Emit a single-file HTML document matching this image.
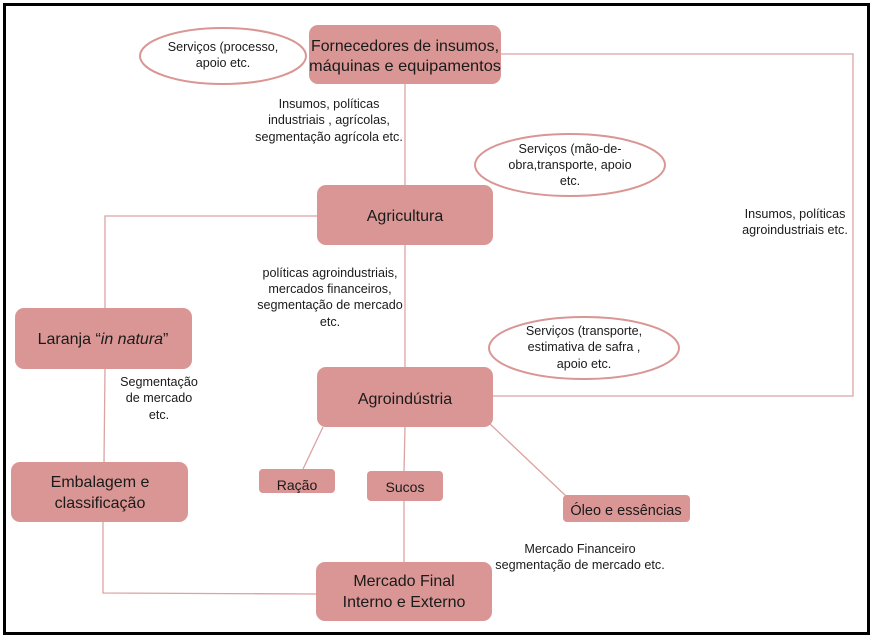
<!DOCTYPE html>
<html><head><meta charset="utf-8"><style>
html,body{margin:0;padding:0;background:#fff}
svg{display:block}
text{font-family:"Liberation Sans",sans-serif;fill:#1a1a1a}
.b{font-size:16px}
.s{font-size:12.6px}
</style></head><body>
<svg width="873" height="638" viewBox="0 0 873 638" xmlns="http://www.w3.org/2000/svg">
<rect x="4.5" y="4.5" width="864" height="629" fill="#fff" stroke="#000" stroke-width="3"/>
<g stroke="#dba3a2" stroke-width="1.3" fill="none">
<line x1="405" y1="84" x2="405" y2="185"/>
<line x1="405" y1="245" x2="405" y2="367"/>
<line x1="405" y1="427" x2="404" y2="471"/>
<line x1="404" y1="501" x2="404" y2="562"/>
<polyline points="501,54 853,54 853,396 493,396"/>
<polyline points="317,216 105,216 105,308"/>
<line x1="105" y1="369" x2="104" y2="462"/>
<polyline points="103,522 103,593 316,594"/>
<line x1="323" y1="427" x2="303" y2="469"/>
<line x1="490" y1="424" x2="566" y2="496"/>
</g>
<g fill="#d99694">
<rect x="309" y="25" width="192" height="59" rx="9"/>
<rect x="317" y="185" width="176" height="60" rx="9"/>
<rect x="15" y="308" width="177" height="61" rx="9"/>
<rect x="317" y="367" width="176" height="60" rx="9"/>
<rect x="11" y="462" width="177" height="60" rx="9"/>
<rect x="259" y="469" width="76" height="24" rx="4"/>
<rect x="367" y="471" width="76" height="30" rx="4"/>
<rect x="563" y="495" width="127" height="27" rx="4"/>
<rect x="316" y="562" width="176" height="59" rx="9"/>
</g>
<g fill="#fff" stroke="#d99694" stroke-width="2">
<ellipse cx="223" cy="56" rx="83" ry="28"/>
<ellipse cx="570" cy="165" rx="95" ry="31"/>
<ellipse cx="584" cy="348" rx="95" ry="31"/>
</g>
<g text-anchor="middle">
<text class="b" x="405" y="51" textLength="188" lengthAdjust="spacingAndGlyphs">Fornecedores de insumos,</text>
<text class="b" x="405" y="71" textLength="192" lengthAdjust="spacingAndGlyphs">máquinas e equipamentos</text>
<text class="b" x="405" y="221">Agricultura</text>
<text class="b" x="103" y="344">Laranja “<tspan font-style="italic">in natura</tspan>”</text>
<text class="b" x="405" y="404">Agroindústria</text>
<text class="b" x="100" y="487">Embalagem e</text>
<text class="b" x="100" y="508">classificação</text>
<text x="297" y="490" font-size="14">Ração</text>
<text x="405" y="492" font-size="14">Sucos</text>
<text x="626" y="515" font-size="14.5">Óleo e essências</text>
<text class="b" x="404" y="586">Mercado Final</text>
<text class="b" x="404" y="607">Interno e Externo</text>
<text class="s" x="223" y="51">Serviços (processo,</text>
<text class="s" x="223" y="67">apoio etc.</text>
<text class="s" x="570" y="153">Serviços (mão-de-</text>
<text class="s" x="570" y="169">obra,transporte, apoio</text>
<text class="s" x="570" y="185">etc.</text>
<text class="s" x="584" y="335">Serviços (transporte,</text>
<text class="s" x="584" y="351">estimativa de safra ,</text>
<text class="s" x="584" y="368">apoio etc.</text>
<text class="s" x="329" y="108">Insumos, políticas</text>
<text class="s" x="329" y="124">industriais , agrícolas,</text>
<text class="s" x="329" y="141">segmentação agrícola  etc.</text>
<text class="s" x="330" y="277">políticas agroindustriais,</text>
<text class="s" x="330" y="293">mercados financeiros,</text>
<text class="s" x="330" y="309">segmentação de mercado</text>
<text class="s" x="330" y="326">etc.</text>
<text class="s" x="159" y="386">Segmentação</text>
<text class="s" x="159" y="402">de mercado</text>
<text class="s" x="159" y="419">etc.</text>
<text class="s" x="795" y="218">Insumos, políticas</text>
<text class="s" x="795" y="234">agroindustriais etc.</text>
<text class="s" x="580" y="553">Mercado Financeiro</text>
<text class="s" x="580" y="569">segmentação de mercado etc.</text>
</g>
</svg>
</body></html>
